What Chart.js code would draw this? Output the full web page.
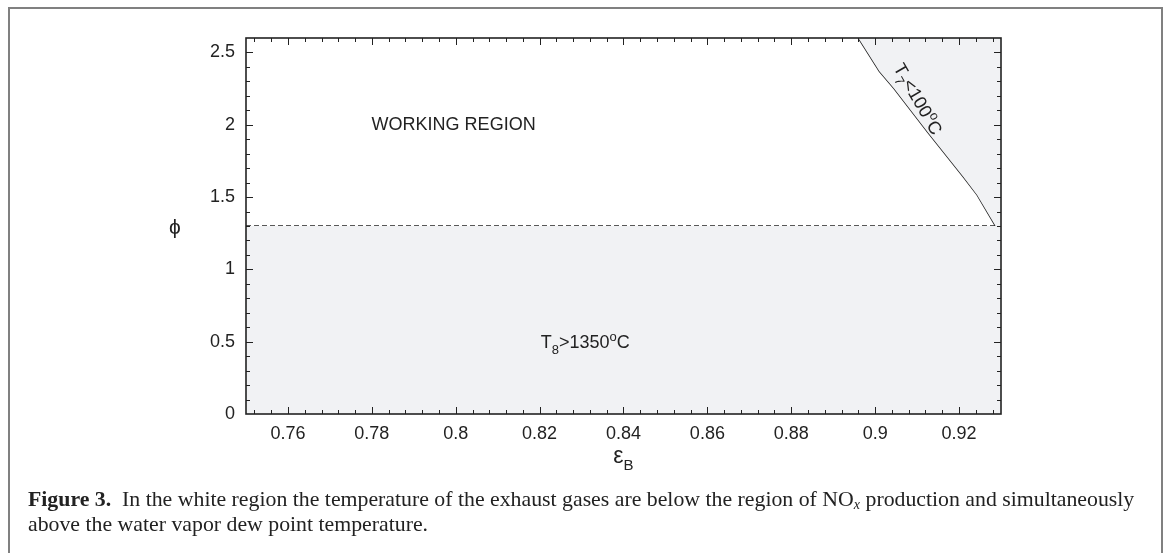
<!DOCTYPE html>
<html lang="en">
<head>
<meta charset="UTF-8">
<title>Figure 3</title>
<script src="https://cdn.jsdelivr.net/npm/chart.js"></script>
<style>
  body { margin: 0; background: #fff; }
  #wrap { position: relative; width: 1165px; height: 553px; overflow: hidden; }
  #frame { position: absolute; left: 8px; top: 7px; width: 1151px; height: 600px; border: 2px solid #808080; border-bottom: none; }
  #plot { position: absolute; left: 0; top: 0; width: 1165px; height: 553px; }
  #caption { position: absolute; left: 28px; top: 487px; font-family: "Liberation Serif", "DejaVu Serif", serif; font-size: 21.8px; line-height: 25px; color: #222; white-space: nowrap; }
  #caption sub { font-size: 14px; line-height: 0; vertical-align: -3px; }
</style>
</head>
<body>
<div id="wrap">
  <div id="frame"></div>
  <div id="plot"><canvas id="chart"></canvas></div>
  <div id="caption"><b>Figure 3.</b>&nbsp; In the white region the temperature of the exhaust gases are below the region of NO<sub><i>x</i></sub> production and simultaneously<br>above the water vapor dew point temperature.</div>
</div>
<script>
// axis ranges and ticks
const xMin = 0.75, xMax = 0.93;
const yMin = 0, yMax = 2.6;
const xStep = 0.004, xMajor = 0.02;
const yStep = 0.1, yMajor = 0.5;

// phi limit for NOx (T8 > 1350 C below it)
const noxPhi = 1.3;
// dew point boundary (T7 < 100 C to the right of it)
const dewEps = [0.896, 0.901, 0.9045, 0.9125, 0.921, 0.9243, 0.9287];
const dewPhi = [2.6, 2.37, 2.25, 1.95, 1.64, 1.515, 1.3];

const FONT = '"Liberation Sans", Arial, "DejaVu Sans", sans-serif';
const SHADE = '#f1f2f4';
const INK = '#222';

const dewPts = dewEps.map((x, i) => ({ x: x, y: dewPhi[i] }));
const noxPts = [{ x: xMin, y: noxPhi }, { x: xMax, y: noxPhi }];

function isMajor(v, step) {
  const r = v / step;
  return Math.abs(r - Math.round(r)) < 1e-6;
}

// ticks on multiples of step inside [min, max]
function stepTicks(min, max, step) {
  const out = [];
  for (let k = Math.ceil(min / step - 1e-9); k * step <= max + 1e-9; k++) {
    out.push({ value: +(k * step).toFixed(4) });
  }
  return out;
}

// draw text with sub/superscript pieces, centred on (x, y)
function richText(ctx, parts, x, y, size, angle) {
  const small = Math.round(size * 0.72);
  ctx.save();
  ctx.translate(x, y);
  ctx.rotate(angle || 0);
  ctx.fillStyle = INK;
  ctx.textAlign = 'left';
  ctx.textBaseline = 'alphabetic';
  let w = 0;
  parts.forEach(p => {
    ctx.font = (p.sub || p.sup ? small : size) + 'px ' + FONT;
    p.w = ctx.measureText(p.t).width;
    w += p.w;
  });
  let cx = -w / 2;
  parts.forEach(p => {
    ctx.font = (p.sub || p.sup ? small : size) + 'px ' + FONT;
    let dy = size * 0.36;
    if (p.sub) dy += size * 0.3;
    if (p.sup) dy -= size * 0.42;
    ctx.fillText(p.t, cx, dy);
    cx += p.w;
  });
  ctx.restore();
}

const decor = {
  id: 'decor',
  afterDatasetsDraw(chart) {
    const { ctx, chartArea: a, scales: { x, y } } = chart;
    ctx.save();
    ctx.strokeStyle = INK;
    ctx.lineWidth = 1;
    ctx.beginPath();
    x.ticks.forEach(t => {
      const px = Math.round(x.getPixelForValue(t.value)) + 0.5;
      if (px <= a.left + 1 || px >= a.right - 1) return;
      const len = isMajor(t.value, xMajor) ? 7 : 4;
      ctx.moveTo(px, a.bottom); ctx.lineTo(px, a.bottom - len);
      ctx.moveTo(px, a.top); ctx.lineTo(px, a.top + len);
    });
    y.ticks.forEach(t => {
      const py = Math.round(y.getPixelForValue(t.value)) + 0.5;
      if (py <= a.top + 1 || py >= a.bottom - 1) return;
      const len = isMajor(t.value, yMajor) ? 7 : 4;
      ctx.moveTo(a.left, py); ctx.lineTo(a.left + len, py);
      ctx.moveTo(a.right, py); ctx.lineTo(a.right - len, py);
    });
    ctx.stroke();
    ctx.lineWidth = 1.6;
    ctx.strokeRect(a.left, a.top, a.right - a.left, a.bottom - a.top);
    ctx.restore();

    // region labels
    ctx.save();
    ctx.fillStyle = INK;
    ctx.font = '18px ' + FONT;
    ctx.textAlign = 'center';
    ctx.textBaseline = 'middle';
    ctx.fillText('WORKING REGION', x.getPixelForValue(0.7995), y.getPixelForValue(2.0));
    ctx.restore();
    richText(ctx, [{ t: 'T' }, { t: '8', sub: true }, { t: '>1350' }, { t: 'o', sup: true }, { t: 'C' }],
      x.getPixelForValue(0.8309), y.getPixelForValue(0.5), 18, 0);
    richText(ctx, [{ t: 'T' }, { t: '7', sub: true }, { t: '<100' }, { t: 'o', sup: true }, { t: 'C' }],
      x.getPixelForValue(0.9103), y.getPixelForValue(2.18), 18, 60 * Math.PI / 180);

    // axis titles
    ctx.save();
    ctx.fillStyle = INK;
    ctx.textAlign = 'center';
    ctx.textBaseline = 'middle';
    ctx.font = '21px ' + FONT;
    ctx.fillText('\u03d5', a.left - 71, (a.top + a.bottom) / 2 + 2);
    ctx.restore();
    ctx.save();
    ctx.fillStyle = INK;
    const cx = (a.left + a.right) / 2;
    ctx.font = '23px ' + FONT;
    const ew = ctx.measureText('\u03b5').width;
    ctx.font = '15px ' + FONT;
    const bw = ctx.measureText('B').width;
    const sx = cx - (ew + bw) / 2;
    ctx.textBaseline = 'alphabetic';
    ctx.font = '23px ' + FONT;
    ctx.fillText('\u03b5', sx, a.bottom + 49);
    ctx.font = '15px ' + FONT;
    ctx.fillText('B', sx + ew, a.bottom + 56);
    ctx.restore();
  }
};

new Chart(document.getElementById('chart'), {
  type: 'scatter',
  data: {
    datasets: [
      { data: noxPts, showLine: true, fill: 'origin', backgroundColor: SHADE, borderWidth: 0, pointRadius: 0 },
      { data: dewPts.concat([{ x: xMax, y: noxPhi }]), showLine: true, fill: 'end', backgroundColor: SHADE, borderWidth: 0, pointRadius: 0 },
      { data: noxPts, showLine: true, fill: false, borderColor: INK, borderWidth: 1.5, borderDash: [5, 3], pointRadius: 0 },
      { data: dewPts, showLine: true, fill: false, borderColor: INK, borderWidth: 1.5, pointRadius: 0 }
    ]
  },
  options: {
    responsive: true,
    maintainAspectRatio: false,
    animation: false,
    layout: { padding: { left: 0, top: 38, right: 164, bottom: 0 } },
    plugins: { legend: { display: false }, tooltip: { enabled: false } },
    scales: {
      x: {
        type: 'linear',
        min: xMin, max: xMax,
        afterBuildTicks: s => { s.ticks = stepTicks(xMin, xMax, xStep); },
        afterFit: s => { s.height = 139; },
        grid: { display: false, drawTicks: false },
        border: { display: false },
        ticks: {
          autoSkip: false, maxRotation: 0, padding: 9,
          color: INK, font: { family: FONT, size: 18 },
          callback: v => (isMajor(v, xMajor) ? String(+v.toFixed(3)) : '')
        }
      },
      y: {
        min: yMin, max: yMax,
        afterBuildTicks: s => { s.ticks = stepTicks(yMin, yMax, yStep); },
        afterFit: s => { s.width = 246; },
        grid: { display: false, drawTicks: false },
        border: { display: false },
        ticks: {
          autoSkip: false, padding: 11,
          color: INK, font: { family: FONT, size: 18 },
          callback: v => (isMajor(v, yMajor) ? String(+v.toFixed(2)) : '')
        }
      }
    }
  },
  plugins: [decor]
});
</script>
</body>
</html>
